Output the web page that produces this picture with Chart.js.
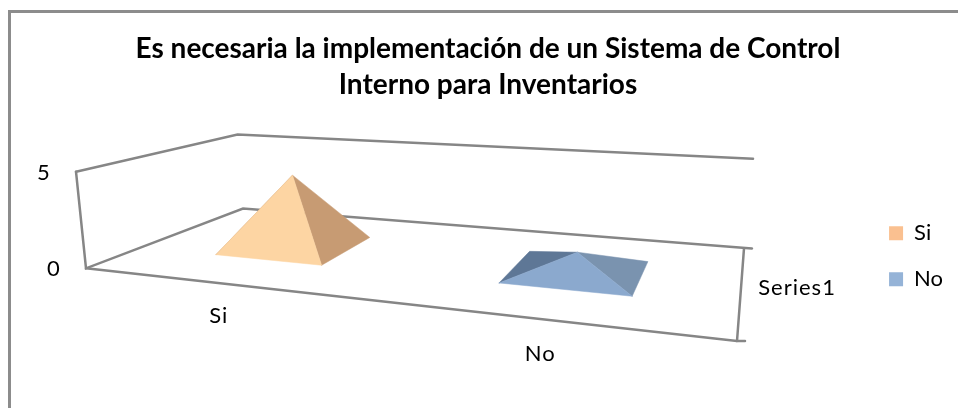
<!DOCTYPE html>
<html>
<head>
<meta charset="utf-8">
<style>
  html, body { margin: 0; padding: 0; background: #fff; }
  #wrap { position: relative; width: 958px; height: 408px; overflow: hidden; }
  #frame { position: absolute; left: 8px; top: 10px; right: 0; bottom: -4px; border-left: 3px solid #8c8c8c; border-top: 3px solid #8c8c8c; }
  canvas { position: absolute; left: 0; top: 0; }
</style>
<script src="https://cdn.jsdelivr.net/npm/chart.js@4"></script>
</head>
<body>
<div id="wrap">
  <div id="frame"></div>
  <canvas id="chart" width="958" height="408"></canvas>
</div>
<script>
const titleLines = ['Es necesaria la implementación de un Sistema de Control', 'Interno para Inventarios'];
const categories = ['Si', 'No'];
const values = [4, 1];
const valueTicks = [0, 5];
const seriesName = 'Series1';
const frontColors = ['#FDD5A3', '#8BA9CE'];
const rightColors = ['#C79B73', '#7A93AF'];
const leftColors = ['#C79B73', '#5E7796'];
const legendColors = ['#FAC090', '#95B3D7'];

const axisMax = 5;
const lineColor = '#868686';
const font = 'Lato, sans-serif';

// perspective of the floor: u runs along the categories, v into the depth
const floor = { a: [86, 269], b: [737, 342], c: [744, 249], d: [243, 209] };
const sx = floor.a[0] - floor.b[0] + floor.c[0] - floor.d[0];
const sy = floor.a[1] - floor.b[1] + floor.c[1] - floor.d[1];
const dx1 = floor.b[0] - floor.c[0];
const dx2 = floor.d[0] - floor.c[0];
const dy1 = floor.b[1] - floor.c[1];
const dy2 = floor.d[1] - floor.c[1];
const det = dx1 * dy2 - dx2 * dy1;
const g = (sx * dy2 - dx2 * sy) / det;
const h = (dx1 * sy - sx * dy1) / det;

const project = (u, v, value) => {
  const w = g * u + h * v + 1;
  const px = ((floor.b[0] - floor.a[0] + g * floor.b[0]) * u + (floor.d[0] - floor.a[0] + h * floor.d[0]) * v + floor.a[0]) / w;
  const py = ((floor.b[1] - floor.a[1] + g * floor.b[1]) * u + (floor.d[1] - floor.a[1] + h * floor.d[1]) * v + floor.a[1]) / w;
  const t = value / axisMax;
  return { x: px + (px - 432) * 0.0289 * t, y: py - 97 * t / w };
};

const line = (points, extra) => ({
  data: points,
  showLine: true,
  tension: 0,
  pointRadius: 0,
  borderColor: lineColor,
  borderWidth: 2.5,
  borderCapStyle: 'round',
  fill: false,
  clip: false,
  ...extra,
});

const face = (points, color) => line(points, {
  borderColor: color,
  borderWidth: 0.5,
  backgroundColor: color,
  fill: 'shape',
});

const tick = (point) => ({ x: point.x + 8, y: point.y });

// back to front, then reversed because chart.js paints the first dataset last
const layers = [
  line([project(0, 0, axisMax), project(0, 0, 0), project(0, 1, 0), tick(project(1, 1, 0))]),
  line([project(0, 0, axisMax), project(0, 1, axisMax), project(1, 1, axisMax)]),
  line([project(0, 0, 0), project(1, 0, 0), tick(project(1, 0, 0))]),
  line([project(1, 0, 0), project(1, 1, 0)]),
];

const halfU = 0.1;
const halfV = 0.205;
categories.forEach((name, i) => {
  const u = (i + 0.5) / categories.length + 0.002;
  const fl = project(u - halfU, 0.5 - halfV, 0);
  const fr = project(u + halfU, 0.5 - halfV, 0);
  const br = project(u + halfU, 0.5 + halfV, 0);
  const bl = project(u - halfU, 0.5 + halfV, 0);
  const apex = project(u, 0.5, values[i]);
  layers.push(face([fl, bl, apex, fl], leftColors[i]));
  layers.push(face([fr, br, apex, fr], rightColors[i]));
  layers.push(face([fl, fr, apex, fl], frontColors[i]));
});

const axisText = {
  id: 'axisText',
  afterDraw(chart) {
    const { ctx, scales } = chart;
    const put = (text, p, dx, dy) => {
      ctx.fillText(text, scales.x.getPixelForValue(p.x) + dx, scales.y.getPixelForValue(p.y) + dy);
    };
    ctx.save();
    ctx.fillStyle = '#000';
    ctx.font = '22px ' + font;
    ctx.letterSpacing = '1px';
    ctx.textAlign = 'center';
    ctx.textBaseline = 'middle';
    valueTicks.forEach((v) => {
      put(String(v), project(0, 0, v), -32, 1);
    });
    const catOffsets = [[-1, 33], [-1, 35]];
    categories.forEach((name, i) => {
      put(name, project((i + 0.5) / categories.length, 0, 0), catOffsets[i][0], catOffsets[i][1]);
    });
    put(seriesName, project(1, 0.5, 0), 56, 1);
    ctx.restore();
  },
};

const chart = new Chart(document.getElementById('chart'), {
  type: 'scatter',
  data: { datasets: layers.reverse() },
  plugins: [axisText],
  options: {
    responsive: false,
    animation: false,
    layout: { padding: { left: 23, right: 5, top: 0, bottom: 0 } },
    plugins: {
      tooltip: { enabled: false },
      title: {
        display: true,
        text: titleLines,
        color: '#000',
        font: { family: font, size: 28, weight: 'bold', lineHeight: 1.32 },
        padding: { top: 30, bottom: 2 },
      },
      legend: {
        position: 'right',
        fullSize: false,
        labels: {
          boxWidth: 14,
          boxHeight: 14,
          padding: 24,
          color: '#000',
          font: { family: font, size: 22 },
          generateLabels: () => categories.map((name, i) => ({
            text: name,
            fillStyle: legendColors[i],
            strokeStyle: legendColors[i],
            lineWidth: 0,
            datasetIndex: i,
          })),
        },
      },
    },
    scales: {
      x: { type: 'linear', display: false },
      y: { type: 'linear', display: false, reverse: true },
    },
  },
});

// plane coordinates follow the plot area so the projection keeps its proportions
const area = chart.chartArea;
chart.options.scales.x.min = area.left;
chart.options.scales.x.max = area.right;
chart.options.scales.y.min = area.top;
chart.options.scales.y.max = area.bottom;
chart.update('none');
</script>
</body>
</html>
